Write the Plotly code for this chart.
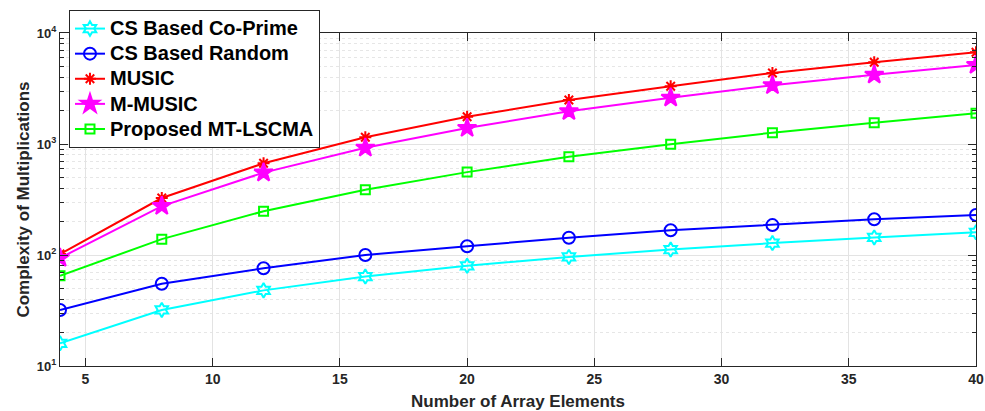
import plotly.graph_objects as go

# Number of array elements
elements = [4, 8, 12, 16, 20, 24, 28, 32, 36, 40]

# Complexity (number of multiplications) per method
cs_coprime = [16, 32, 48, 64, 80, 96, 112, 128, 144, 160]
cs_random = [32, 55, 76, 100, 120, 143, 167, 186, 210, 229]
music = [102, 326, 670, 1150, 1760, 2490, 3315, 4365, 5445, 6700]
m_music = [94, 276, 552, 924, 1393, 1975, 2612, 3380, 4208, 5150]
mt_lscma = [65, 139, 248, 387, 558, 766, 994, 1265, 1556, 1893]

x_ticks = [5, 10, 15, 20, 25, 30, 35, 40]
y_ticks = [10, 100, 1000, 10000]
y_tick_text = ["10<sup>1</sup>", "10<sup>2</sup>", "10<sup>3</sup>", "10<sup>4</sup>"]

series = [
    ("CS Based Co-Prime", cs_coprime, "#00FFFF", "hexagram-open", 11),
    ("CS Based Random", cs_random, "#0000FF", "circle-open", 12),
    ("MUSIC", music, "#FF0000", "asterisk-open", 10),
    ("M-MUSIC", m_music, "#FF00FF", "star", 14),
    ("Proposed MT-LSCMA", mt_lscma, "#00FF00", "square-open", 9),
]

fig = go.Figure()
for name, vals, color, symbol, size in series:
    fig.add_trace(go.Scatter(
        x=elements, y=vals, mode="lines+markers",
        # larger glyphs inside a compact legend row
        name='<span style="font-size:20px">' + name + "</span>",
        line=dict(color=color, width=2),
        marker=dict(symbol=symbol, size=size, color=color,
                    line=dict(color=color, width=2)),
    ))

family = "Liberation Sans, Arial, sans-serif"
dark = "#262626"

fig.update_layout(
    width=985, height=411,
    margin=dict(l=60, r=9, t=33, b=45, autoexpand=False),
    paper_bgcolor="white", plot_bgcolor="white",
    font=dict(family=family, color=dark),
    legend=dict(
        x=0.0098, y=1.069, xanchor="left", yanchor="top",
        bgcolor="white", bordercolor=dark, borderwidth=1,
        font=dict(size=17, color="black", family=family, weight="bold"),
        itemwidth=30,
    ),
)

fig.update_xaxes(
    range=[4, 40], tickvals=x_ticks, automargin=False, ticklabeloverflow="allow",
    tickfont=dict(family=family, size=14, color=dark, weight="bold"),
    title=dict(text="<b>Number of Array Elements</b>",
               font=dict(family=family, size=17, color=dark)),
    showline=True, linecolor=dark, linewidth=1, mirror="ticks",
    ticks="inside", ticklen=8, tickcolor=dark,
    showgrid=True, gridcolor="#E3E3E3", gridwidth=1, zeroline=False,
)

fig.update_yaxes(
    type="log", range=[1, 4], tickvals=y_ticks, ticktext=y_tick_text, automargin=False,
    tickfont=dict(family=family, size=13, color=dark, weight="bold"),
    title=dict(text="<b>Complexity of Multiplications</b>",
               font=dict(family=family, size=17, color=dark), standoff=2),
    showline=True, linecolor=dark, linewidth=1, mirror="ticks",
    ticks="inside", ticklen=8, tickcolor=dark,
    showgrid=True, gridcolor="#E3E3E3", gridwidth=1, zeroline=False,
    minor=dict(dtick="D1", ticks="inside", ticklen=4, tickcolor=dark,
               showgrid=True, gridcolor="#E6E6E6", griddash="dot", gridwidth=1),
)

fig.write_html("out.html")
